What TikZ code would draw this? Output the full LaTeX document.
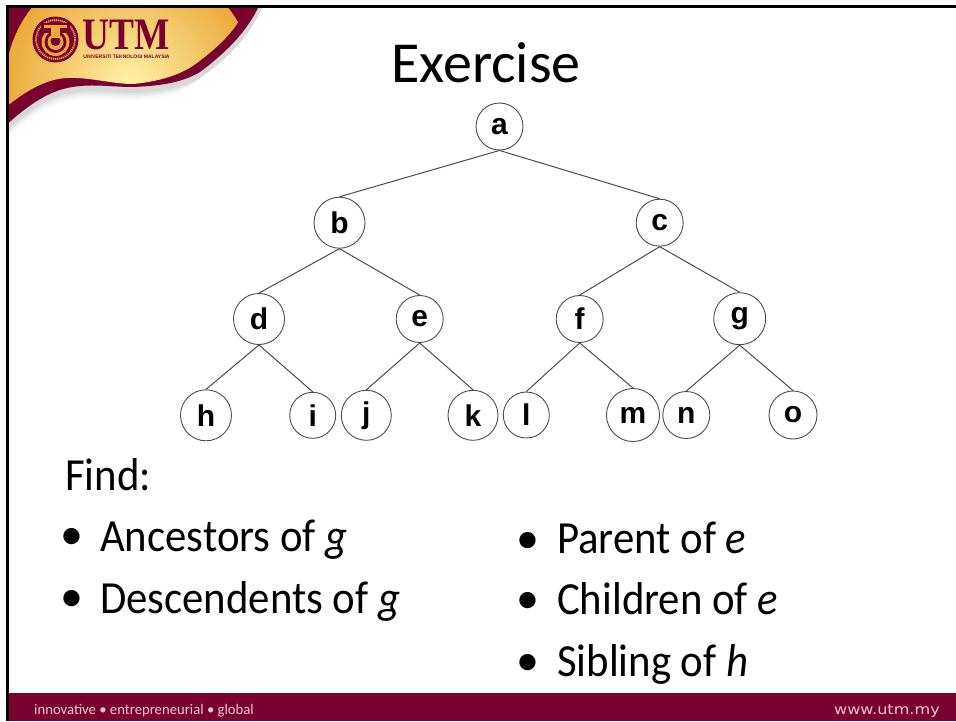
\documentclass[tikz,border=0pt]{standalone}
\usepackage{fontspec}
\setmainfont{Carlito}
\newfontfamily\labfont{Liberation Sans}
\newfontfamily\logofont{Liberation Serif}
\newfontfamily\webfont{DejaVu Sans}
\definecolor{utmred}{HTML}{7A0030}
\definecolor{utmpink}{HTML}{F0C8CC}
\definecolor{goldo}{HTML}{EBA93A}
\definecolor{goldi}{HTML}{FFF3A8}
\tikzset{
 treenode/.style={circle,draw=black!70,line width=0.9pt,fill=white,inner sep=0pt,minimum size=#1*2pt,font=\labfont\bfseries\fontsize{30}{30}\selectfont,text=black},
 treeedge/.style={draw=black!70,line width=1pt},
 slidetext/.style={anchor=base west,inner sep=0pt,text=black,xscale=0.93,font=\fontsize{46}{46}\selectfont},
 bulletmark/.style={anchor=base west,inner sep=0pt,text=black,font=\fontsize{46}{46}\selectfont},
 foot/.style={anchor=base west,inner sep=0pt,text=utmpink}
}
\newcommand{\wavelower}{(258,8) .. controls (248,28) and (232,48) .. (200,72) .. controls (180,84) and (155,86) .. (133,87) .. controls (110,87) and (90,83) .. (67,88) .. controls (45,93) and (25,108) .. (8.5,123)}
\begin{document}
\begin{tikzpicture}[x=1pt,y=-1pt]
\useasboundingbox (0,0) rectangle (956,721);
\fill[white] (0,0) rectangle (956,721);
% banner shadow
\foreach \d/\o in {10/0.015,8/0.02,6/0.03,4/0.04,2/0.05}{
 \fill[black,opacity=\o] (262,8) .. controls (252,30) and (236,52) .. (203,76) .. controls (182,88+\d) and (155,90+\d) .. (133,91+\d) .. controls (110,91+\d) and (90,87+\d) .. (67,92+\d) .. controls (45,97+\d) and (25,112+\d) .. (8.5,127+\d) -- (8.5,8) -- cycle;
}
% gold background + wave
\fill[utmred] (8.5,8) -- \wavelower -- cycle;
\begin{scope}
\clip (8.5,8) -- (245,8) .. controls (238,28) and (222,44) .. (197,63) .. controls (180,76) and (155,82) .. (133,84) .. controls (112,84) and (90,77) .. (67,78) .. controls (45,79) and (25,92) .. (8.5,105) -- cycle;
\shade[inner color=goldi,outer color=goldo] (130,85) circle [radius=125];
\end{scope}
% frame
\fill[black] (6,5) rectangle (956,8);
\fill[black] (6,5) rectangle (8.5,721);
% logo
\fill[utmred] (55.5,39.5) circle [radius=23];
\draw[goldo,line width=1.8pt,dash pattern=on 1.2pt off 0.8pt] (55.5,39.5) circle [radius=19.5];
\fill[goldo] (55.5,42) circle [radius=14];
\fill[utmred] (55.5,42) circle [radius=11];
\fill[goldo] (55.5,42) circle [radius=8];
\fill[utmred] (55.5,41) circle [radius=5];
\fill[utmred] (41,23) rectangle (70,33);
\fill[goldo] (44,25) rectangle (67,28);
\fill[goldo] (51,28) rectangle (60,38);
\node[anchor=base,inner sep=0pt,text=utmred,font=\logofont\bfseries\fontsize{45}{45}\selectfont,xscale=0.83] (utm) at (126.5,49.5) {UTM};
\node[anchor=base,inner sep=0pt,text=utmred,font=\labfont\bfseries\fontsize{5}{5}\selectfont] (utmsub) at (126.5,58.5) {UNIVERSITI TEKNOLOGI MALAYSIA};
% footer
\fill[utmred] (8.5,693) rectangle (956,721);
\node[foot,font=\fontsize{14.7}{15}\selectfont] (footl) at (34,714) {innovative \textbullet{} entrepreneurial \textbullet{} global};
\node[foot,font=\webfont\fontsize{14}{14}\selectfont,anchor=base east,xscale=1.15] (footr) at (940,714) {www.utm.my};
% title
\node[anchor=base,inner sep=0pt,font=\fontsize{58}{58}\selectfont] (title) at (486,82) {Exercise};
% tree
\node[treenode=23.5] (a) at (499.5,126.5) {a};
\node[treenode=25.5] (b) at (339.5,222.7) {b};
\node[treenode=23.5] (c) at (659.7,222.7) {c};
\node[treenode=25.5] (d) at (259,319) {d};
\node[treenode=23.5] (e) at (419.7,319) {e};
\node[treenode=23.5] (f) at (579.7,319) {f};
\node[treenode=26] (g) at (739.7,318.7) {g};
\node[treenode=25.5] (h) at (206,415.3) {h};
\node[treenode=23] (i) at (312.7,415.3) {i};
\node[treenode=25] (j) at (366.3,415.3) {j};
\node[treenode=25] (k) at (473,415.3) {k};
\node[treenode=23] (l) at (526.3,415) {l};
\node[treenode=26.5] (m) at (633,415) {m};
\node[treenode=23.5] (n) at (686.3,415) {n};
\node[treenode=24] (o) at (793,415) {o};
\foreach \p/\q in {a/b,a/c,b/d,b/e,c/f,c/g,d/h,d/i,e/j,e/k,f/l,f/m,g/n,g/o}{
 \draw[treeedge] (\p.south) -- (\q.north);
}
% text
\node[slidetext] (find) at (65,490) {Find:};
\node[bulletmark] (b1) at (60,549) {\textbullet};
\node[slidetext] (t1) at (100,551) {Ancestors of \textit{g}};
\node[bulletmark] (b2) at (60,611.5) {\textbullet};
\node[slidetext] (t2) at (100,613) {Descendents of \textit{g}};
\node[bulletmark] (b3) at (516,553) {\textbullet};
\node[slidetext] (t3) at (557,553) {Parent of \textit{e}};
\node[bulletmark] (b4) at (516,613) {\textbullet};
\node[slidetext] (t4) at (557,614) {Children of \textit{e}};
\node[bulletmark] (b5) at (516,675) {\textbullet};
\node[slidetext] (t5) at (557,676) {Sibling of \textit{h}};
\end{tikzpicture}
\end{document}
